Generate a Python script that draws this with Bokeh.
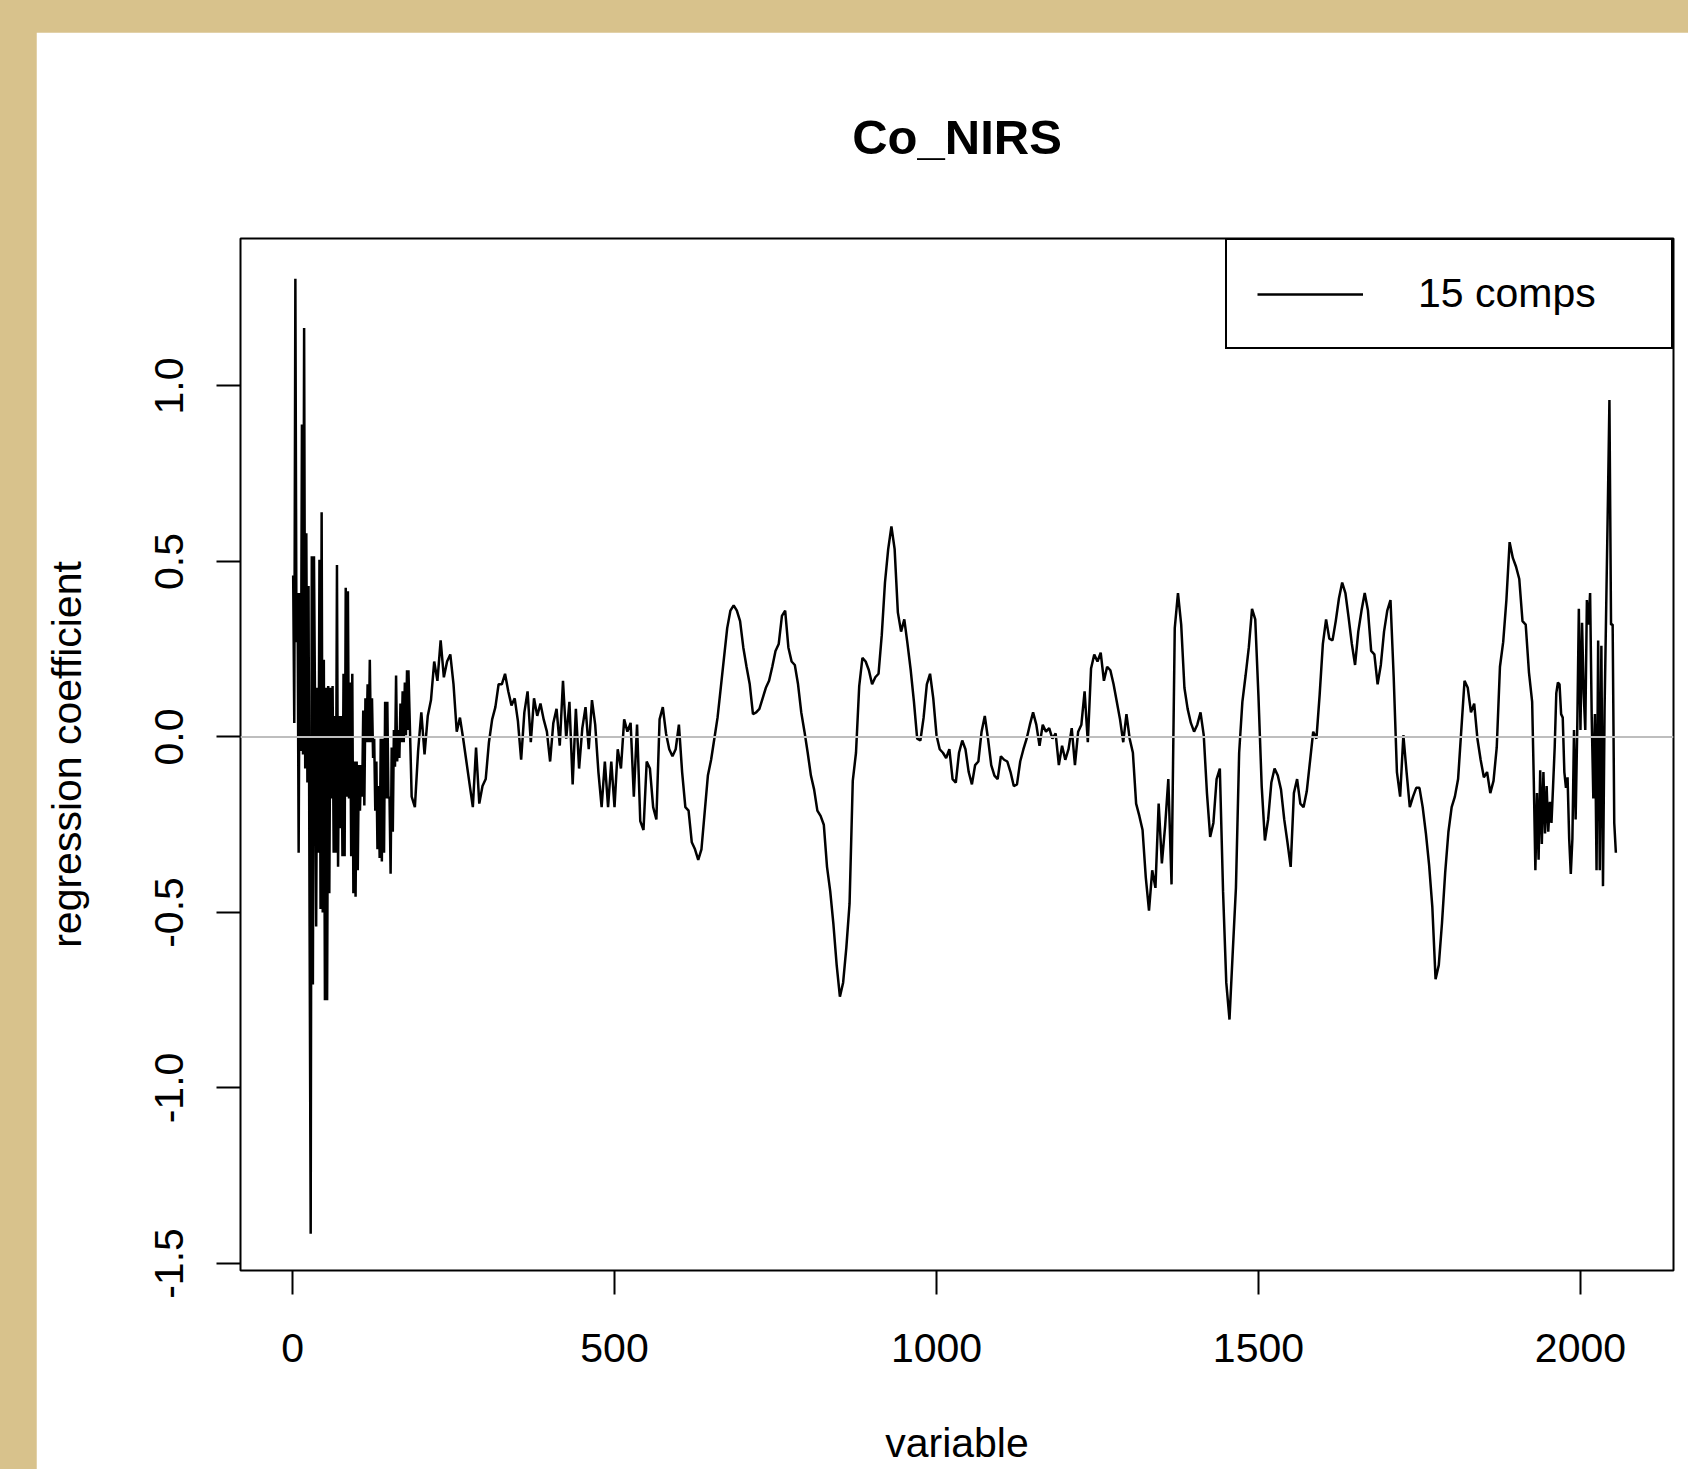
import numpy as np
from bokeh.plotting import figure
from bokeh.models import Span, FixedTicker, PrintfTickFormatter, Range1d
from bokeh.layouts import column
from bokeh.embed import file_html
from bokeh.resources import INLINE

TITLE = "Co_NIRS"
X_LABEL = "variable"
Y_LABEL = "regression coefficient"
SERIES_NAME = "15 comps"
X_TICKS = [0, 500, 1000, 1500, 2000]
Y_TICKS = [-1.5, -1.0, -0.5, 0.0, 0.5, 1.0]

# variables 1 .. ~180, sampled every 1.7
coef_seg1 = [
    0.46, 0.04, 1.305, 0.27, 0.41, -0.33, 0.41, -0.04, 0.89, -0.05,
    1.165, -0.09, 0.58, -0.13, 0.43, -0.54, -1.415, 0.515, -0.705, 0.515,
    0.075, -0.54, 0.14, -0.33, 0.505, -0.49, 0.64, -0.5, 0.22, -0.75,
    0.14, -0.75, 0.145, -0.445, 0.14, -0.175, 0.145, -0.33, 0.06, -0.33,
    0.49, -0.37, 0.06, -0.26, 0.06, -0.34, 0.18, -0.34, 0.425, -0.17,
    0.415, -0.175, 0.155, -0.34, 0.18, -0.445, -0.07, -0.455, -0.07, -0.38,
    -0.08, -0.21, -0.08, -0.17, 0.075, -0.195, 0.11, -0.015, 0.15, -0.015,
    0.22, -0.015, 0.11, -0.06, -0.005, -0.21, -0.07, -0.32, -0.14, -0.345,
    -0.005, -0.355, -0.005, -0.33, 0.1, -0.175, 0.1, -0.175, -0.17, -0.39,
    -0.03, -0.27, 0.02, -0.085, 0.175, -0.07, 0.02, -0.06, 0.095, -0.015,
    0.13, -0.015, 0.155, 0.005, 0.19, 0.02,
]
SEG1_START, SEG1_STEP = 1.0, 1.7

# variables 180 .. 1925, every 5
coef_seg2 = [
    0.19, -0.17, -0.2, -0.04, 0.07, -0.05, 0.06, 0.105, 0.215, 0.16,
    0.275, 0.17, 0.215, 0.235, 0.15, 0.015, 0.055, -0.005, -0.07, -0.135,
    -0.2, -0.03, -0.19, -0.14, -0.12, -0.015, 0.05, 0.085, 0.15, 0.15,
    0.18, 0.13, 0.09, 0.11, 0.045, -0.065, 0.07, 0.13, -0.015, 0.11,
    0.06, 0.095, 0.05, 0.015, -0.07, 0.04, 0.08, -0.025, 0.16, -0.005,
    0.1, -0.135, 0.08, -0.09, 0.025, 0.085, -0.035, 0.105, 0.035, -0.1,
    -0.2, -0.07, -0.2, -0.07, -0.2, -0.035, -0.09, 0.05, 0.015, 0.04,
    -0.17, 0.035,
    -0.24, -0.265, -0.07, -0.09, -0.2, -0.235, 0.05, 0.085, 0.01, -0.035,
    -0.055, -0.035, 0.035, -0.1, -0.2, -0.21, -0.3, -0.32, -0.35, -0.32,
    -0.215, -0.11, -0.065, -0.005, 0.055, 0.14, 0.225, 0.31, 0.36, 0.375,
    0.36, 0.33, 0.255, 0.2, 0.15, 0.065, 0.07, 0.08, 0.11, 0.14,
    0.16, 0.2, 0.245, 0.265, 0.345, 0.36, 0.255, 0.215, 0.205, 0.15,
    0.07, 0.015, -0.045, -0.11, -0.15, -0.21, -0.225, -0.25, -0.37, -0.44,
    -0.535, -0.65, -0.74, -0.7, -0.6, -0.475, -0.125, -0.045, 0.145, 0.225,
    0.215, 0.19, 0.15, 0.17, 0.18, 0.29, 0.44,
    0.535, 0.6, 0.535, 0.355, 0.3, 0.335, 0.265, 0.19, 0.1, -0.005,
    -0.01, 0.055, 0.15, 0.18, 0.11, 0.005, -0.035, -0.045, -0.06, -0.035,
    -0.12, -0.13, -0.045, -0.01, -0.035, -0.1, -0.135, -0.08, -0.07, 0.015,
    0.06, -0.005, -0.08, -0.11, -0.12, -0.055, -0.065, -0.07, -0.1, -0.14,
    -0.135, -0.07, -0.035, -0.005, 0.035, 0.07, 0.035, -0.025, 0.035, 0.015,
    0.025, -0.005, 0.01, -0.08, -0.025, -0.065, -0.035, 0.025, -0.08, 0.015,
    0.035, 0.13, -0.015, 0.195, 0.235, 0.215, 0.24, 0.16, 0.2, 0.19,
    0.15, 0.1, 0.05, -0.015, 0.065, -0.005, -0.045, -0.19,
    -0.225, -0.265, -0.4, -0.495, -0.38, -0.43, -0.19, -0.36, -0.255, -0.12,
    -0.42, 0.31, 0.41, 0.32, 0.14, 0.08, 0.04, 0.015, 0.035, 0.07,
    0.005, -0.16, -0.285, -0.245, -0.12, -0.09, -0.44, -0.7, -0.805, -0.615,
    -0.43, -0.045, 0.1, 0.175, 0.255, 0.365, 0.335, 0.115, -0.14, -0.295,
    -0.235, -0.13, -0.09, -0.11, -0.15, -0.235, -0.3, -0.37, -0.16, -0.12,
    -0.19, -0.2, -0.155, -0.07, 0.015, -0.005, 0.12, 0.265, 0.335, 0.28,
    0.275, 0.33, 0.395, 0.44, 0.41, 0.34, 0.265, 0.205, 0.3, 0.36,
    0.41, 0.36, 0.245, 0.235, 0.15, 0.205, 0.3,
    0.36, 0.39, 0.17, -0.1, -0.17, 0.005, -0.1, -0.2, -0.17, -0.145,
    -0.145, -0.2, -0.275, -0.365, -0.485, -0.69, -0.65, -0.53, -0.385, -0.27,
    -0.2, -0.17, -0.12, 0.02, 0.16, 0.14, 0.07, 0.095, -0.005, -0.065,
    -0.115, -0.1, -0.16, -0.125, -0.03, 0.2, 0.27, 0.39, 0.555, 0.51,
    0.485, 0.45, 0.33, 0.32, 0.185, 0.1,
]
SEG2_START, SEG2_STEP = 180.0, 5.0

# variables 1927.5 .. 2055, every 2.5
coef_seg3 = [
    -0.12, -0.38, -0.16, -0.35, -0.095, -0.305, -0.1, -0.275, -0.14, -0.27,
    -0.185, -0.245, -0.14, -0.03, 0.125, 0.155, 0.15, 0.065, 0.055, -0.1,
    -0.145, -0.115, -0.29, -0.39, -0.29, 0.02, -0.235, 0.02, 0.365, 0.02,
    0.325, 0.125, 0.02, 0.39, 0.32, 0.41, 0.055, -0.175, 0.065, -0.38,
    0.275, -0.38, 0.26, -0.425, 0.085, 0.37, 0.655, 0.96, 0.32, 0.32,
    -0.245, -0.33,
]
SEG3_START, SEG3_STEP = 1927.5, 2.5

x_vals = np.concatenate([
    SEG1_START + SEG1_STEP * np.arange(len(coef_seg1)),
    SEG2_START + SEG2_STEP * np.arange(len(coef_seg2)),
    SEG3_START + SEG3_STEP * np.arange(len(coef_seg3)),
])
y_vals = np.array(coef_seg1 + coef_seg2 + coef_seg3)

FONT = "Liberation Sans"

p = figure(
    width=1652, height=1437,
    output_backend="svg", toolbar_location=None,
    x_range=Range1d(-80.8, 2144.5), y_range=Range1d(-1.52, 1.42),
    min_border_left=204, min_border_right=15, min_border_top=205, min_border_bottom=199,
    background_fill_color="white", border_fill_color="white",
)
p.margin = (32, 0, 0, 36)

p.title.text = TITLE
p.title.text_font = FONT
p.title.text_font_size = "49px"
p.title.text_font_style = "bold"
p.title.text_color = "black"
p.title.align = "center"
p.title.standoff = 150

p.line(x_vals, y_vals, line_color="black", line_width=2.5, legend_label=SERIES_NAME)

p.add_layout(Span(location=0, dimension="width", line_color="#bebebe", line_width=2))

p.grid.visible = False
p.outline_line_color = "black"
p.outline_line_width = 2
p.outline_line_alpha = 1

for ax in (p.xaxis[0], p.yaxis[0]):
    ax.axis_line_color = None
    ax.major_tick_line_color = "black"
    ax.major_tick_line_width = 2
    ax.major_tick_out = 24
    ax.major_tick_in = 0
    ax.minor_tick_line_color = None
    ax.major_label_text_font = FONT
    ax.major_label_text_font_size = "41px"
    ax.major_label_text_color = "black"
    ax.axis_label_text_font = FONT
    ax.axis_label_text_font_size = "41px"
    ax.axis_label_text_font_style = "normal"
    ax.axis_label_text_color = "black"

p.xaxis.ticker = FixedTicker(ticks=X_TICKS)
p.yaxis.ticker = FixedTicker(ticks=Y_TICKS)
p.yaxis.formatter = PrintfTickFormatter(format="%.1f")
p.yaxis.major_label_orientation = "vertical"
p.xaxis.axis_label = X_LABEL
p.yaxis.axis_label = Y_LABEL
p.xaxis.major_label_standoff = 39
p.xaxis.axis_label_standoff = 55
p.yaxis.major_label_standoff = 33
p.yaxis.axis_label_standoff = 63

lg = p.legend[0]
lg.location = "top_right"
lg.margin = 0
lg.padding = 30
lg.spacing = 0
lg.glyph_width = 106
lg.glyph_height = 46
lg.label_height = 46
lg.label_width = 223
lg.label_standoff = 55
lg.label_text_font = FONT
lg.label_text_font_size = "41px"
lg.label_text_color = "black"
lg.border_line_color = "black"
lg.border_line_width = 2
lg.border_line_alpha = 1
lg.background_fill_color = "white"
lg.background_fill_alpha = 1

root = column(p, styles={"background-color": "#d8c28c"})

open("out.html", "w").write(file_html(root, INLINE))
